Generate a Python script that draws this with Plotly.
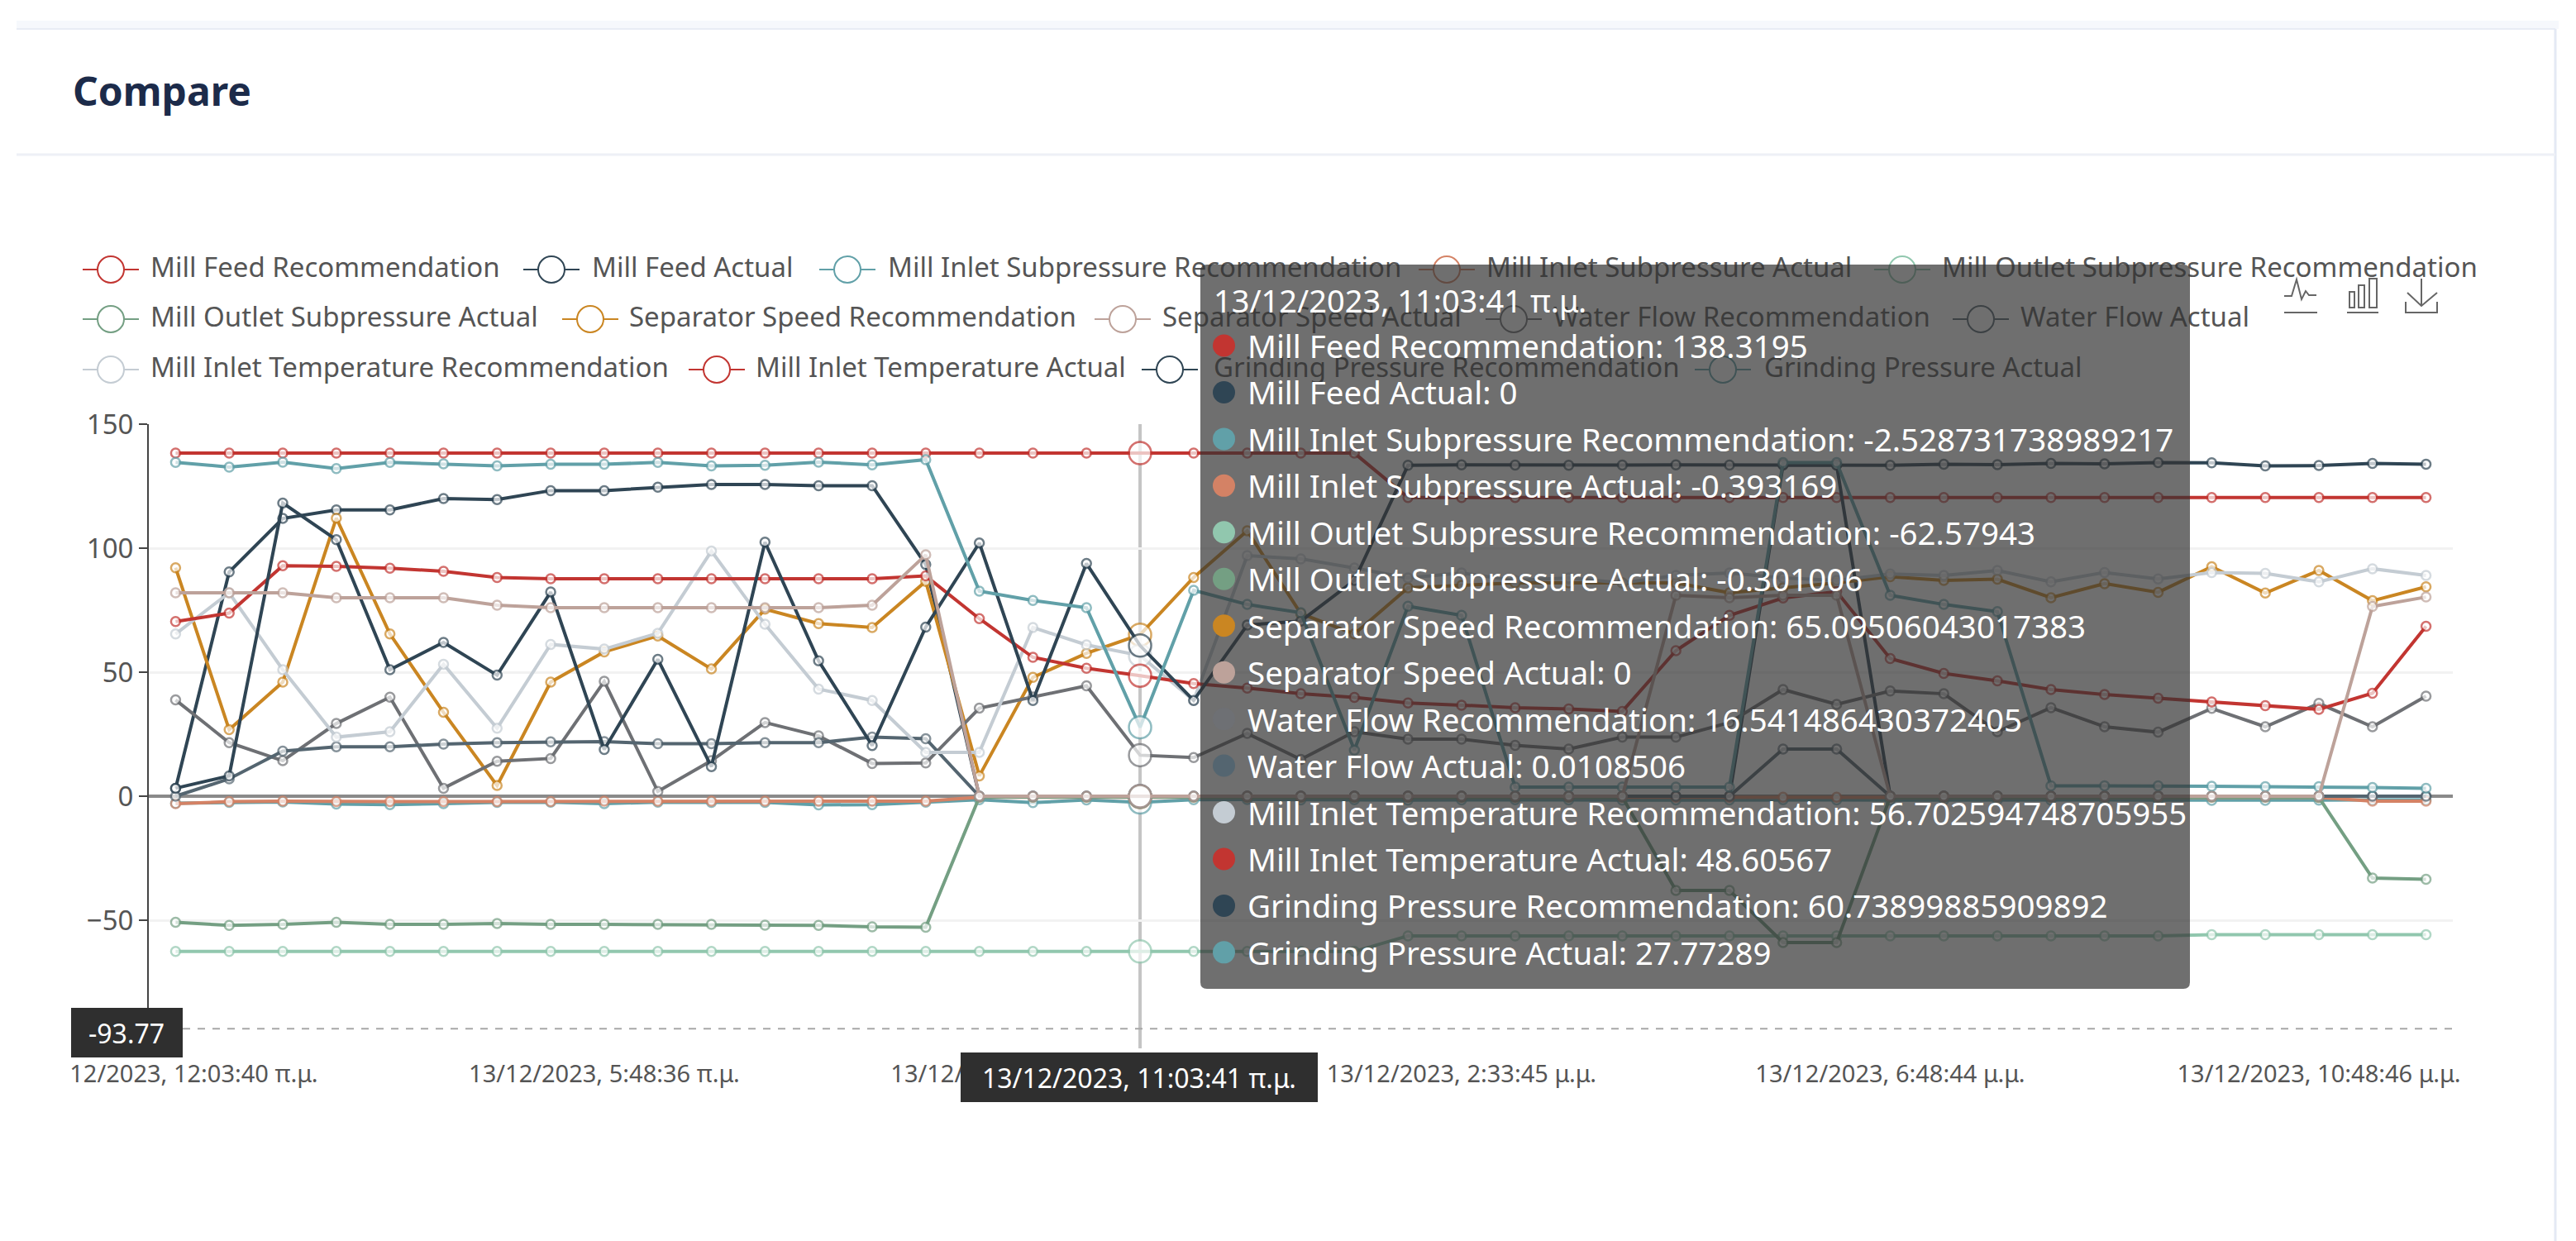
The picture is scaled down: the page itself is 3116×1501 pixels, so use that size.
"""Compare panel: recommended vs actual mill signals, with the hover state frozen at 11:03:41."""

import plotly.graph_objects as go

W, H = 3116, 1501
FONT = "Noto Sans"

# one reading per time step (43 steps)
mill_feed_rec = [138.3, 138.3, 138.3, 138.3, 138.3, 138.3, 138.3, 138.3, 138.3, 138.3, 138.3, 138.3, 138.3, 138.3, 138.3,
                 138.3, 138.3, 138.3, 138.32, 138.3, 138.3, 138.3, 138.3, 120.4, 120.4, 120.4, 120.4, 120.4, 120.4, 120.4,
                 120.4, 120.4, 120.4, 120.4, 120.4, 120.4, 120.4, 120.4, 120.4, 120.4, 120.4, 120.4, 120.4]
mill_feed_act = [3.2, 90.4, 112, 115.4, 115.4, 120, 119.6, 123.2, 123.2, 124.6, 125.7, 125.7, 125.2, 125.2, 93.4,
                 0, 0, 0, 0, 0, 0, 0, 0, 0, 0, 0, 0, 0, 0, 0,
                 133.5, 133.5, 0, 0, 0, 0, 0, 0, 0, 0, 0, 0, 0]
inlet_sub_rec = [-2.8, -2.5, -2.3, -3.2, -3.4, -3, -2.5, -2.4, -3, -2.4, -2.5, -2.5, -3.5, -3.4, -2.4,
                 -1.4, -2.6, -1.5, -2.53, -1.4, -1.3, -1.5, -1.4, -1.6, -1.5, -1.4, -1.5, -1.6, -1.5, -1.5,
                 -1.4, -1.5, -1.6, -1.5, -1.5, -1.6, -1.5, -1.6, -1.7, -1.7, -1.6, -1.5, -1.5]
inlet_sub_act = [-3, -2.2, -2, -2.2, -2.2, -2.2, -2.2, -2.2, -2, -2, -2, -2, -2, -2, -2,
                 -0.4, -0.4, -0.4, -0.39, -0.4, -0.4, -0.4, -0.4, -0.4, -0.4, -0.4, -0.4, -0.4, -0.4, -0.4,
                 -0.4, -0.4, -0.4, -0.4, -0.4, -0.4, -0.4, -0.4, -0.4, -0.4, -0.5, -2, -2]
outlet_sub_rec = [-62.6, -62.6, -62.6, -62.6, -62.6, -62.6, -62.6, -62.6, -62.6, -62.6, -62.6, -62.6, -62.6, -62.6, -62.6,
                  -62.6, -62.6, -62.6, -62.58, -62.6, -62.6, -62.6, -62.6, -56.3, -56.3, -56.3, -56.3, -56.3, -56.3, -56.3,
                  -56.3, -56.3, -56.3, -56.3, -56.3, -56.3, -56.3, -56.3, -55.8, -55.8, -55.8, -55.8, -55.8]
outlet_sub_act = [-50.8, -52.1, -51.7, -50.8, -51.7, -51.7, -51.3, -51.7, -51.7, -51.7, -51.7, -52, -52.1, -52.7, -52.8,
                  -0.3, -0.3, -0.3, -0.3, -0.3, -0.3, -0.3, -0.3, -0.3, -0.3, -0.3, -0.3, -0.3, -38, -38,
                  -59, -59, -0.3, -0.3, -0.3, -0.3, -0.3, -0.3, -0.3, -0.3, -0.5, -33, -33.5]
sep_speed_rec = [92.1, 26.8, 46, 112.1, 65.4, 33.8, 4.3, 46, 58.2, 64.6, 51.3, 75.4, 69.6, 68, 86.6,
                 8.2, 47.9, 57.6, 65.1, 88.2, 107, 73.6, 65.4, 84, 85, 86, 86, 86, 86, 82,
                 84, 86, 88.5, 87, 87.5, 80, 85.7, 82.2, 92.5, 81.9, 91, 78.8, 84.4]
sep_speed_act = [82, 82, 82, 80, 80, 80, 77, 76, 76, 76, 76, 76, 76, 77, 97.3,
                 0, 0, 0, 0, 0, 0, 0, 0, 0, 0, 0, 0, 0, 81, 80,
                 81, 81, 0, 0, 0, 0, 0, 0, 0, 0, 0, 76.5, 80.3]
water_flow_rec = [38.8, 21.6, 14.3, 29.3, 39.9, 3.2, 14.1, 15.2, 46.3, 1.9, 14.3, 29.7, 24.3, 13.2, 13.4,
                  35.5, 40, 44.5, 16.54, 15.6, 25.3, 14.8, 26, 23, 23, 20.5, 19, 23.8, 23.8, 29.7,
                  43, 37, 42.4, 41.3, 26, 35.7, 28, 25.8, 35.4, 28, 37.4, 28, 40.3]
water_flow_act = [0, 7, 18.2, 19.9, 19.9, 21, 21.6, 21.9, 22, 21.2, 21.2, 21.6, 21.6, 23.8, 23.2,
                  0, 0, 0, 0.01, 0, 0, 0, 0, 0, 0, 0, 0, 0, 0, 0,
                  19, 19, 0, 0, 0, 0, 0, 0, 0, 0, 0, 0, 0]
inlet_temp_rec = [65.4, 82, 51, 23.8, 26, 53.2, 27.4, 61.2, 59.3, 65.7, 98.8, 69.3, 43.2, 38.6, 17.7,
                  17.7, 68, 61, 56.7, 38.6, 97, 95.7, 92, 88, 90, 87, 88, 86, 89, 90,
                  88, 87, 89.6, 89, 91, 86.4, 90.2, 87.6, 90.2, 89.8, 86.4, 91.7, 89]
inlet_temp_act = [70.4, 73.8, 92.9, 92.7, 91.9, 90.7, 88.2, 87.7, 87.7, 87.7, 87.7, 87.7, 87.7, 87.7, 88.8,
                  71.6, 56, 51.6, 48.6, 45.4, 43.6, 41.3, 39.8, 37.6, 36.7, 35.7, 35.2, 34.2, 58.7, 72.9,
                  79.9, 82.5, 55.5, 49.5, 46.5, 43, 41, 39.5, 38, 36.5, 35, 41.5, 68.5]
grinding_rec = [3.2, 8.2, 118.2, 103.4, 51, 62, 48.8, 82.3, 18.8, 55.2, 11.9, 102.4, 54.6, 20.4, 68.2,
                102.1, 38.6, 93.8, 60.74, 38.6, 69, 70.6, 87, 133.4, 133.6, 133.5, 133.4, 133.5, 133.6, 133.5,
                133.7, 133.5, 133.4, 133.8, 133.7, 134.2, 134, 134.5, 134.4, 133.2, 133.3, 134.2, 133.8]
grinding_act = [134.6, 132.7, 134.7, 132.1, 134.6, 134, 133.2, 133.8, 133.8, 134.6, 133.2, 133.4, 134.7, 133.6, 135.7,
                82.7, 78.9, 76, 27.77, 83, 77.3, 74, 18.6, 76.6, 72.9, 3.7, 3.7, 3.7, 3.7, 3.7,
                134.5, 134.5, 81, 77.3, 74.4, 4.2, 4.2, 4.2, 4, 3.8, 3.8, 3.5, 3.2]

series_names = [
    "Mill Feed Recommendation", "Mill Feed Actual",
    "Mill Inlet Subpressure Recommendation", "Mill Inlet Subpressure Actual",
    "Mill Outlet Subpressure Recommendation", "Mill Outlet Subpressure Actual",
    "Separator Speed Recommendation", "Separator Speed Actual",
    "Water Flow Recommendation", "Water Flow Actual",
    "Mill Inlet Temperature Recommendation", "Mill Inlet Temperature Actual",
    "Grinding Pressure Recommendation", "Grinding Pressure Actual",
]
series_values = [
    mill_feed_rec, mill_feed_act, inlet_sub_rec, inlet_sub_act, outlet_sub_rec, outlet_sub_act,
    sep_speed_rec, sep_speed_act, water_flow_rec, water_flow_act, inlet_temp_rec, inlet_temp_act,
    grinding_rec, grinding_act,
]
tooltip_values = [
    "138.3195", "0", "-2.528731738989217", "-0.393169", "-62.57943", "-0.301006",
    "65.09506043017383", "0", "16.541486430372405", "0.0108506",
    "56.702594748705955", "48.60567", "60.73899885909892", "27.77289",
]
steps = list(range(43))
tick_steps = [0, 8, 16, 24, 32, 40]
tick_labels = [
    "13/12/2023, 12:03:40 π.μ.", "13/12/2023, 5:48:36 π.μ.", "13/12/2023, 10:03:41 π.μ.",
    "13/12/2023, 2:33:45 μ.μ.", "13/12/2023, 6:48:44 μ.μ.", "13/12/2023, 10:48:46 μ.μ.",
]
HOVER_STEP = 18
HOVER_LABEL = "13/12/2023, 11:03:41 π.μ."
POINTER_VALUE = -93.77

COLORS = ["#c23531", "#2f4554", "#61a0a8", "#d48265", "#91c7ae", "#749f83", "#ca8622",
          "#bda29a", "#6e7074", "#546570", "#c4ccd3", "#c23531", "#2f4554", "#61a0a8"]

# the separator actual sits on top of everything along the zero line
DRAW_ORDER = [0, 1, 2, 3, 4, 5, 6, 8, 9, 10, 11, 12, 13, 7]

# legend key centres and text starts in page pixels, per series
LEGEND_KEYS = [(134, 326), (667, 326), (1025, 326), (1750, 326), (2301, 326),
               (134, 386), (714, 386), (1358, 386), (1831, 386), (2396, 386),
               (134, 447), (867, 447), (1415, 447), (2084, 447)]
LEGEND_TEXT_X = [182, 716, 1074, 1798, 2349, 182, 761, 1406, 1879, 2444, 182, 914, 1468, 2134]
ROW_Y0, ROW_STEP = 418, 56.45


def px_shape(kind, x0, y0, x1, y1, **kw):
    return dict(type=kind, xref="x2", yref="y2", x0=x0, y0=y0, x1=x1, y1=y1, **kw)


def icon(path):
    return dict(type="path", xref="x2", yref="y2", path=path, line=dict(color="#666666", width=2), layer="above")


fig = go.Figure()

for i in DRAW_ORDER:
    sizes = [11] * len(steps)
    sizes[HOVER_STEP] = 27
    fig.add_trace(go.Scatter(
        x=steps, y=series_values[i], name=series_names[i], mode="lines+markers", cliponaxis=False,
        line=dict(color=COLORS[i], width=4),
        marker=dict(size=sizes, color="#ffffff", line=dict(color=COLORS[i], width=2.5)),
    ))

# legend text lives on the pixel axes so the tooltip can dim it, as in the original
fig.add_trace(go.Scatter(
    x=LEGEND_TEXT_X, y=[k[1] + 1 for k in LEGEND_KEYS], text=series_names,
    mode="text", textposition="middle right", xaxis="x2", yaxis="y2",
    textfont=dict(family=FONT, size=33, color="#555555"),
))

shapes = [
    # page card
    px_shape("rect", 20, 25, 3095, 35, fillcolor="#f6f8fc", line_width=0, layer="below"),
    px_shape("line", 20, 35, 3091, 35, line=dict(color="#e8ecf5", width=2), layer="below"),
    px_shape("line", 3091, 35, 3091, 1501, line=dict(color="#e4e9f4", width=3), layer="below"),
    px_shape("line", 20, 187, 3091, 187, line=dict(color="#eef0f6", width=3), layer="below"),
    # axis pointers
    dict(type="line", xref="x", yref="paper", x0=HOVER_STEP, x1=HOVER_STEP, y0=(H - 1268) / H, y1=(H - 513) / H,
         line=dict(color="#c4c4c4", width=4), layer="below"),
    dict(type="line", xref="paper", yref="y", x0=221 / W, x1=2967 / W, y0=POINTER_VALUE, y1=POINTER_VALUE,
         line=dict(color="#a8a8a8", width=2, dash="dash"), layer="below"),
]
for (cx, cy), color in zip(LEGEND_KEYS, COLORS):
    shapes.append(px_shape("line", cx - 34, cy, cx + 34, cy, line=dict(color=color, width=2), layer="below"))
    shapes.append(px_shape("circle", cx - 16, cy - 16, cx + 16, cy + 16, fillcolor="#ffffff",
                           line=dict(color=color, width=2), layer="below"))

shapes += [
    # hides the start of the first tick label, cut by the screenshot
    px_shape("rect", 0, 1282, 85, 1330, fillcolor="#ffffff", line_width=0, layer="above"),
    px_shape("rect", 86, 1219, 221, 1279, fillcolor="#2f2f2f", line_width=0, layer="above"),
    px_shape("rect", 1162, 1273, 1594, 1333, fillcolor="#2f2f2f", line_width=0, layer="above"),
    dict(type="path", xref="x2", yref="y2", layer="above", fillcolor="rgba(50,50,50,0.7)", line_width=0,
         path="M 1460 320 H 2641 Q 2649 320 2649 328 V 1188 Q 2649 1196 2641 1196 H 1460 "
              "Q 1452 1196 1452 1188 V 328 Q 1452 320 1460 320 Z"),
    icon("M 2763 378 H 2803 M 2763 358 H 2772 L 2778 338 L 2784 362 L 2789 352 L 2793 357 H 2802"),
    icon("M 2839 378 H 2877 M 2842 353 H 2848 V 372 H 2842 Z M 2853 345 H 2860 V 372 H 2853 Z "
         "M 2866 337 H 2875 V 372 H 2866 Z"),
    icon("M 2929 337 V 370 M 2912 354 L 2929 370 L 2948 354 M 2910 365 V 378 H 2948 V 365"),
]

annotations = [
    dict(xref="x2", yref="y2", x=86, y=109, text="<b>Compare</b>", showarrow=False, xanchor="left",
         font=dict(family=FONT, size=48, color="#1c2b4a")),
    dict(xref="x2", yref="y2", x=153, y=1249, text=f"{POINTER_VALUE}", showarrow=False,
         font=dict(family=FONT, size=32, color="#ffffff")),
    dict(xref="x2", yref="y2", x=1378, y=1303, text=HOVER_LABEL, showarrow=False,
         font=dict(family=FONT, size=32, color="#ffffff")),
    dict(xref="x2", yref="y2", x=1466, y=363, text=HOVER_LABEL, showarrow=False, xanchor="left",
         font=dict(family=FONT, size=38, color="#ffffff")),
]
for k, (name, val, color) in enumerate(zip(series_names, tooltip_values, COLORS)):
    row_y = ROW_Y0 + ROW_STEP * k
    shapes.append(px_shape("circle", 1467, row_y - 13.5, 1494, row_y + 13.5, fillcolor=color, line_width=0, layer="above"))
    annotations.append(dict(xref="x2", yref="y2", x=1507, y=row_y, text=f"{name}: {val}", showarrow=False,
                            xanchor="left", font=dict(family=FONT, size=38.5, color="#ffffff")))

fig.update_layout(
    width=W, height=H, autosize=False, showlegend=False,
    margin=dict(l=0, r=0, t=0, b=0),
    paper_bgcolor="#ffffff", plot_bgcolor="rgba(0,0,0,0)",
    font=dict(family=FONT, color="#555555"),
    shapes=shapes, annotations=annotations,
    xaxis=dict(
        domain=[180 / W, 2967 / W], range=[-0.5, 42.5], tickmode="array", automargin=False,
        tickvals=tick_steps, ticktext=tick_labels, tickangle=0, showgrid=False, zeroline=False,
        ticks="", ticklabelstandoff=16, tickfont=dict(family=FONT, size=29, color="#555555"),
    ),
    yaxis=dict(
        domain=[(H - 1263) / H, (H - 513) / H], range=[-100, 150], tickvals=[-50, 0, 50, 100, 150],
        automargin=False, gridcolor="#f2f2f2", gridwidth=3, showline=True, linecolor="#444444", linewidth=2,
        zeroline=True, zerolinecolor="#8a8a8a", zerolinewidth=4,
        ticks="outside", ticklen=10, tickcolor="#444444", tickwidth=2,
        tickfont=dict(family=FONT, size=33, color="#555555"),
    ),
    xaxis2=dict(domain=[0, 1], range=[0, W], visible=False, anchor="y2", fixedrange=True, automargin=False),
    yaxis2=dict(domain=[0, 1], range=[H, 0], visible=False, anchor="x2", fixedrange=True, automargin=False),
)

fig.write_html("out.html", config={"displayModeBar": False}, post_script="document.body.style.margin='0';")
